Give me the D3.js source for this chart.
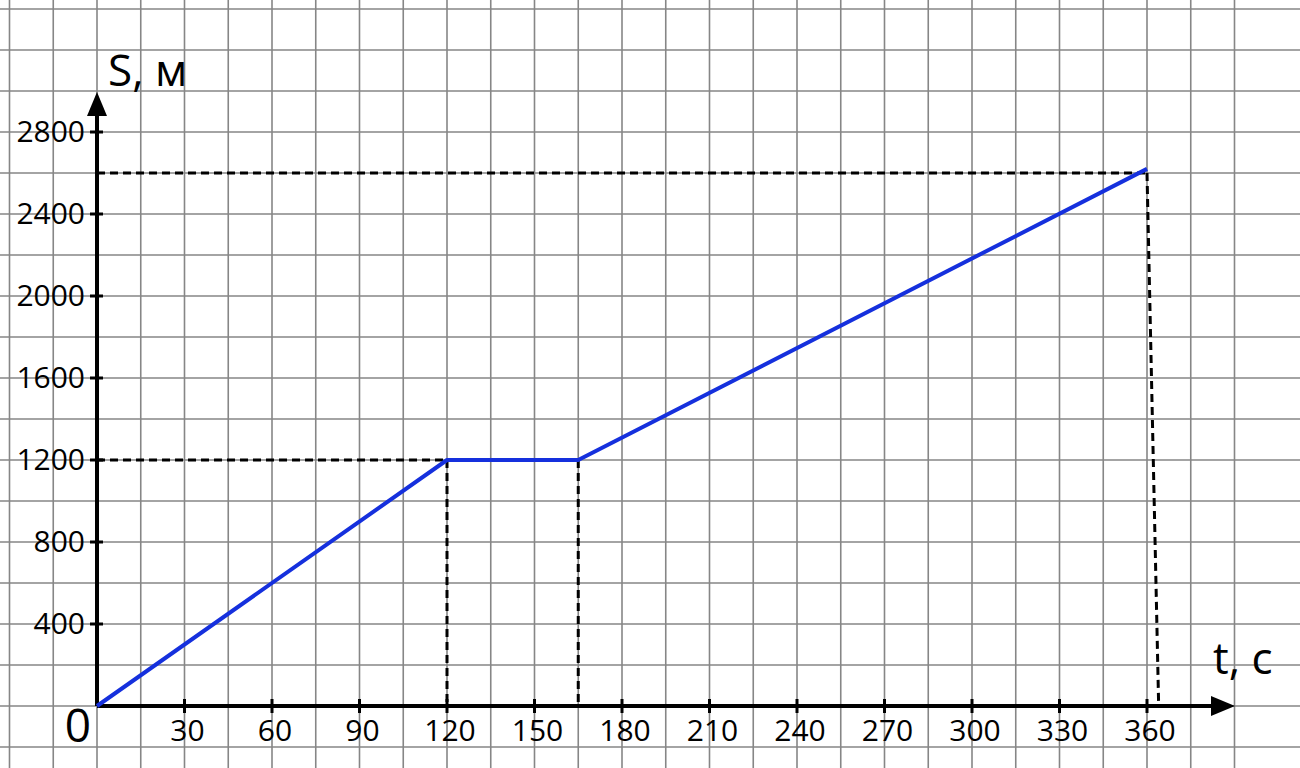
<!DOCTYPE html>
<html><head><meta charset="utf-8">
<script src="https://cdn.jsdelivr.net/npm/d3@7"></script>
<style>body{margin:0;background:#fff;}svg{display:block;}</style>
</head><body>
<svg id="c" width="1300" height="768"></svg>
<script>
const xTicks = [30,60,90,120,150,180,210,240,270,300,330,360];
const yTicks = [400,800,1200,1600,2000,2400,2800];
const times = [0,120,165,360];
const dist = [0,1200,1200,2620];

const svg = d3.select("#c");
const x = d3.scaleLinear().domain([0,360]).range([97,1147]);
const y = d3.scaleLinear().domain([0,2800]).range([706,132]);
const font = "'Open Sans', sans-serif";

// grid paper
const gx = d3.range(-30, 405, 15);
const gy = d3.range(-200, 3600, 200);
svg.append("g").selectAll("line").data(gx).join("line")
  .attr("x1",d=>x(d)).attr("x2",d=>x(d)).attr("y1",0).attr("y2",768)
  .attr("stroke","#868686").attr("stroke-width",1.6);
svg.append("g").selectAll("line").data(gy).join("line")
  .attr("y1",d=>y(d)).attr("y2",d=>y(d)).attr("x1",0).attr("x2",1300)
  .attr("stroke","#868686").attr("stroke-width",1.6);

// dashed guides
const dash = svg.append("g").attr("stroke","#000").attr("stroke-width",3).attr("stroke-dasharray","8,5").attr("fill","none");
dash.append("line").attr("x1",x(0)).attr("x2",x(120)).attr("y1",y(1200)).attr("y2",y(1200));
dash.append("line").attr("x1",x(0)).attr("x2",x(360)).attr("y1",y(2600)).attr("y2",y(2600));
dash.append("line").attr("x1",x(120)).attr("x2",x(120)).attr("y1",y(1200)).attr("y2",y(0));
dash.append("line").attr("x1",x(165)).attr("x2",x(165)).attr("y1",y(1200)).attr("y2",y(0));
dash.append("line").attr("x1",x(360)).attr("x2",x(364)).attr("y1",y(2600)).attr("y2",y(0));

// axes
const ax = svg.append("g").attr("stroke","#000").attr("stroke-width",4);
ax.append("line").attr("x1",x(0)).attr("x2",1215).attr("y1",y(0)).attr("y2",y(0));
ax.append("line").attr("x1",x(0)).attr("x2",x(0)).attr("y1",y(0)).attr("y2",112);
svg.append("path").attr("d",`M1235,${y(0)} L1211,${y(0)-10} L1211,${y(0)+10} Z`).attr("fill","#000");
svg.append("path").attr("d",`M${x(0)},92 L${x(0)-10},116 L${x(0)+10},116 Z`).attr("fill","#000");

// ticks
svg.append("g").selectAll("line").data(xTicks).join("line")
  .attr("x1",d=>x(d)).attr("x2",d=>x(d)).attr("y1",y(0)-7).attr("y2",y(0)+7)
  .attr("stroke","#000").attr("stroke-width",3);
svg.append("g").selectAll("line").data(yTicks).join("line")
  .attr("y1",d=>y(d)).attr("y2",d=>y(d)).attr("x1",x(0)-7).attr("x2",x(0)+6)
  .attr("stroke","#000").attr("stroke-width",3);

svg.append("g").selectAll("text").data(xTicks).join("text")
  .attr("x",d=>x(d)+3).attr("y",y(0)+35).attr("text-anchor","middle")
  .attr("font-family",font).attr("font-size",30).attr("fill","#000").text(d=>d);
svg.append("g").selectAll("text").data(yTicks).join("text")
  .attr("x",x(0)-12).attr("y",d=>y(d)+10).attr("text-anchor","end")
  .attr("font-family",font).attr("font-size",30).attr("fill","#000").text(d=>d);

svg.append("text").attr("x",78).attr("y",742).attr("text-anchor","middle")
  .attr("font-family",font).attr("font-size",46).text("0");
svg.append("text").attr("x",108).attr("y",86)
  .attr("font-family",font).attr("font-size",44).text("S, м");
svg.append("text").attr("x",1213).attr("y",674)
  .attr("font-family",font).attr("font-size",44).text("t, с");

// data line
const pts = times.map((t,i)=>[t,dist[i]]);
svg.append("path").datum(pts)
  .attr("d",d3.line().x(d=>x(d[0])).y(d=>y(d[1])))
  .attr("fill","none").attr("stroke","#1530dd").attr("stroke-width",4).attr("stroke-linejoin","round");
</script>
</body></html>
